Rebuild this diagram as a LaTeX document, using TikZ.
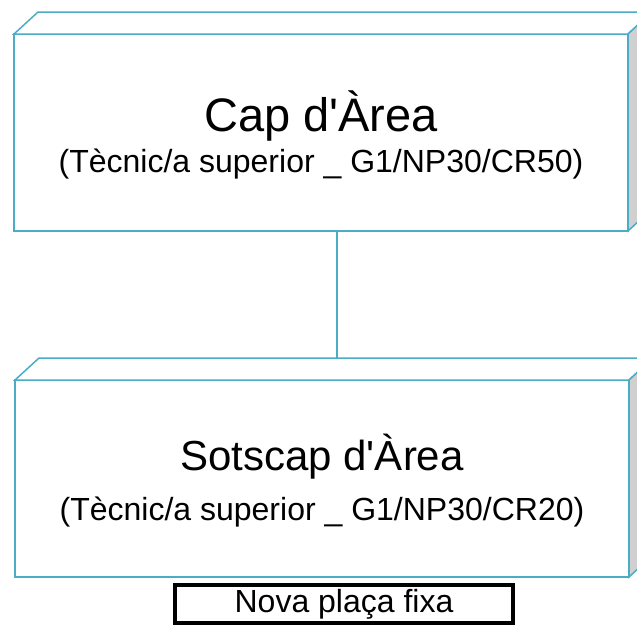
\documentclass[tikz,border=0pt]{standalone}
\usepackage{fontspec}
\setmainfont{Liberation Sans}
\usetikzlibrary{positioning,calc}
\definecolor{areaTeal}{HTML}{4BACC6}
\definecolor{sideGray}{HTML}{D0D0D0}

\begin{document}
\begin{tikzpicture}[
        x=1pt, y=-1pt,
        front/.style={draw=areaTeal, fill=white, line width=1.5pt, rectangle, minimum width=614pt, minimum height=197pt, inner sep=0pt, outer sep=0pt}, % front face of a block
        face/.style={draw=areaTeal, line width=1.5pt}, % top and side faces
        title/.style={anchor=base, font=\fontsize{42}{48}\selectfont},
        subtitle/.style={anchor=base, font=\fontsize{32}{38}\selectfont},
        tag/.style={draw=black, line width=4pt, minimum width=338pt, minimum height=38pt, inner sep=0pt, font=\fontsize{32}{36}\selectfont}
    ]
    \useasboundingbox (0,0) rectangle (637,624);
    \clip (0,0) rectangle (637,624);

    \node[front] (cap) at (321,132.5) {};
    \node[front] (sotscap) at (322,478.5) {};

    % connector between the two blocks
    \coordinate (capFoot) at ($(cap.south)+(16,0)$);
    \coordinate (sotscapTop) at ($(sotscap.north)+(15,-22)$);
    \draw[face] (capFoot) -- (sotscapTop);

    % depth faces
    \draw[face, fill=white] (cap.north west) -- ($(cap.north west)+(24,-22)$) -- ($(cap.north east)+(24,-22)$) -- (cap.north east) -- cycle;
    \draw[face, fill=sideGray] (cap.north east) -- ($(cap.north east)+(24,-22)$) -- ($(cap.south east)+(24,-22)$) -- (cap.south east) -- cycle;
    \draw[face, fill=white] (sotscap.north west) -- ($(sotscap.north west)+(24,-22)$) -- ($(sotscap.north east)+(24,-22)$) -- (sotscap.north east) -- cycle;
    \draw[face, fill=sideGray] (sotscap.north east) -- ($(sotscap.north east)+(24,-22)$) -- ($(sotscap.south east)+(24,-22)$) -- (sotscap.south east) -- cycle;

    \node[title, font=\fontsize{47}{52}\selectfont] (capTitle) at ($(cap.north)+(0,97)$) {Cap d\textquotesingle Àrea};
    \node[subtitle] (capSub) at ($(cap.north)+(0,138)$) {(Tècnic/a superior \_ G1/NP30/CR50)};
    \node[title] (sotscapTitle) at ($(sotscap.north)+(0,90)$) {Sotscap d\textquotesingle Àrea};
    \node[subtitle] (sotscapSub) at ($(sotscap.north)+(0,140)$) {(Tècnic/a superior \_ G1/NP30/CR20)};

    \node[tag] (plaça) at (344,604) {Nova plaça fixa};
\end{tikzpicture}
\end{document}
